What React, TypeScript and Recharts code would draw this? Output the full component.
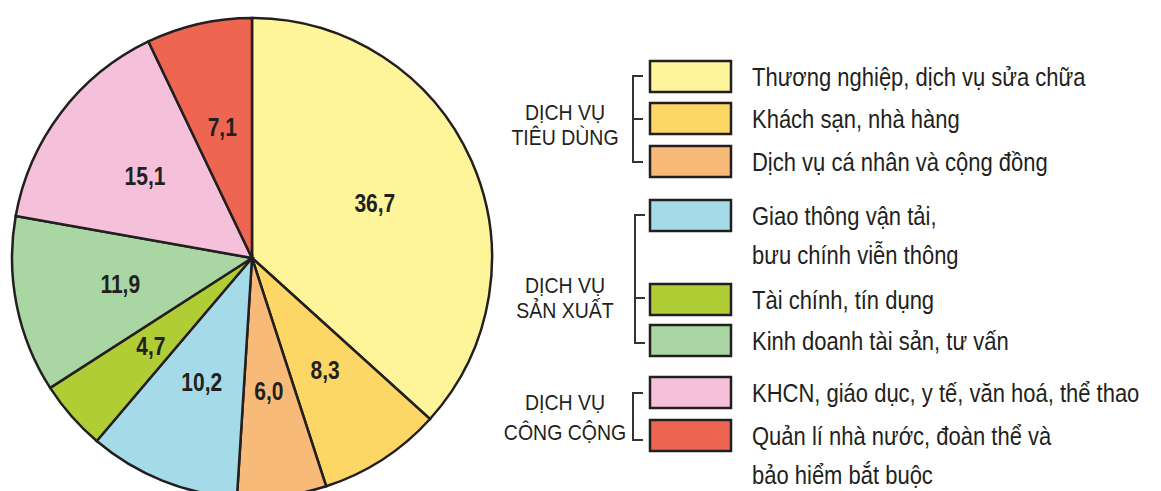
import { PieChart, Pie, Cell } from 'recharts';

const categories = [
  'Thương nghiệp, dịch vụ sửa chữa',
  'Khách sạn, nhà hàng',
  'Dịch vụ cá nhân và cộng đồng',
  'Giao thông vận tải,\nbưu chính viễn thông',
  'Tài chính, tín dụng',
  'Kinh doanh tài sản, tư vấn',
  'KHCN, giáo dục, y tế, văn hoá, thể thao',
  'Quản lí nhà nước, đoàn thể và\nbảo hiểm bắt buộc',
];
const shares = [36.7, 8.3, 6.0, 10.2, 4.7, 11.9, 15.1, 7.1];
const colors = ['#fef59b', '#fdd766', '#f8ba78', '#a5dae9', '#b0cd35', '#a9d6a2', '#f5c0da', '#ee6651'];
const groupTitles = [
  ['DỊCH VỤ', 'TIÊU DÙNG'],
  ['DỊCH VỤ', 'SẢN XUẤT'],
  ['DỊCH VỤ', 'CÔNG CỘNG'],
];

const data = categories.map((name, i) => ({ name, value: shares[i], color: colors[i] }));

const INK = '#231f20';
const RAD = Math.PI / 180;
const FONT = "Arial, 'Liberation Sans', sans-serif";

// layout of the legend side (pixels)
const boxTops = [61, 103, 146, 200, 284, 325, 377, 420];
const brackets = [
  { x: 633, top: 76, bottom: 162, mid: 119, titleY: [112, 137] },
  { x: 635, top: 215, bottom: 343, mid: 298, titleY: [285, 310] },
  { x: 633, top: 393, bottom: 440, mid: null, titleY: [402, 432] },
];

const renderLabel = (props: any) => {
  const { cx, cy, midAngle, outerRadius, value } = props;
  const r = outerRadius * 0.56;
  const x = cx + r * Math.cos(-midAngle * RAD);
  const y = cy + r * Math.sin(-midAngle * RAD);
  return (
    <text
      transform={`translate(${x},${y}) scale(1,1.2)`}
      textAnchor="middle"
      dominantBaseline="central"
      fill={INK}
      fontSize={21}
      fontWeight="bold"
      fontFamily={FONT}
    >
      {Number(value).toFixed(1).replace('.', ',')}
    </text>
  );
};

function LegendPanel() {
  return (
    <svg
      width={1161}
      height={491}
      style={{ position: 'absolute', left: 0, top: 0, pointerEvents: 'none' }}
      fontFamily={FONT}
    >
      {brackets.map((b, g) => (
        <g key={g}>
          <path
            d={`M${b.x + 10},${b.top} H${b.x} V${b.bottom} H${b.x + 10}` + (b.mid != null ? ` M${b.x},${b.mid} H${b.x + 10}` : '')}
            fill="none"
            stroke="#333"
            strokeWidth={2}
          />
          {groupTitles[g].map((t, k) => (
            <text
              key={k}
              transform={`translate(565,${b.titleY[k]}) scale(1,1.1)`}
              textAnchor="middle"
              dominantBaseline="central"
              fontSize={19.5}
              fill={INK}
            >
              {t}
            </text>
          ))}
        </g>
      ))}
      {data.map((d, i) => (
        <g key={d.name}>
          <rect x={650} y={boxTops[i]} width={81} height={31} fill={d.color} stroke={INK} strokeWidth={2.5} />
          {d.name.split('\n').map((line, k) => (
            <text
              key={k}
              transform={`translate(752,${boxTops[i] + 16 + k * 39}) scale(1,1.15)`}
              dominantBaseline="central"
              fontSize={22}
              fill={INK}
            >
              {line}
            </text>
          ))}
        </g>
      ))}
    </svg>
  );
}

export default function App() {
  return (
    <div style={{ position: 'absolute', left: 0, top: 0, width: 1161, height: 491, background: '#fff', overflow: 'hidden' }}>
      <PieChart width={1161} height={491} margin={{ top: 0, right: 0, bottom: 0, left: 0 }}>
        <Pie
          data={data}
          dataKey="value"
          nameKey="name"
          cx={252}
          cy={258}
          outerRadius={240}
          startAngle={90}
          endAngle={-270}
          stroke={INK}
          strokeWidth={2.5}
          label={renderLabel}
          labelLine={false}
          isAnimationActive={false}
        >
          {data.map((d) => (
            <Cell key={d.name} fill={d.color} />
          ))}
        </Pie>
      </PieChart>
      <LegendPanel />
    </div>
  );
}
